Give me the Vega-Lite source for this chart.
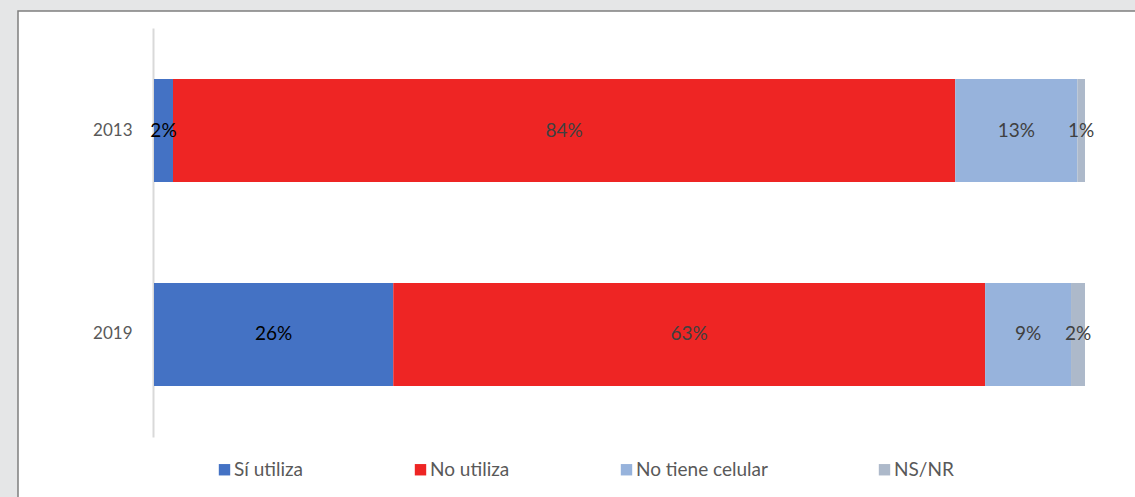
{
  "$schema": "https://vega.github.io/schema/vega-lite/v6.json",
  "width": 1135,
  "height": 497,
  "autosize": {"type": "fit", "contains": "padding"},
  "padding": {"left": 18, "top": 11, "right": -2, "bottom": -2},
  "background": "#e5e6e7",
  "config": {
    "view": {"fill": "white", "stroke": "#7f7f7f", "strokeWidth": 1.5},
    "font": "Lato"
  },
  "data": {
    "values": [
      {"year": "2013", "cat": "Sí utiliza", "k": 1, "value": 2.04, "label": "2%"},
      {"year": "2013", "cat": "No utiliza", "k": 2, "value": 84.02, "label": "84%"},
      {"year": "2013", "cat": "No tiene celular", "k": 3, "value": 13.12, "label": "13%"},
      {"year": "2013", "cat": "NS/NR", "k": 4, "value": 0.82, "label": "1%"},
      {"year": "2019", "cat": "Sí utiliza", "k": 1, "value": 25.7, "label": "26%"},
      {"year": "2019", "cat": "No utiliza", "k": 2, "value": 63.57, "label": "63%"},
      {"year": "2019", "cat": "No tiene celular", "k": 3, "value": 9.23, "label": "9%"},
      {"year": "2019", "cat": "NS/NR", "k": 4, "value": 1.5, "label": "2%"}
    ]
  },
  "encoding": {
    "y": {
      "field": "year",
      "type": "nominal",
      "sort": ["2013", "2019"],
      "scale": {"range": [17, 426], "paddingInner": 0.495, "paddingOuter": 0.25},
      "axis": {
        "title": null,
        "offset": -135,
        "domainColor": "#d9d9d9",
        "domainWidth": 2,
        "ticks": false,
        "labelPadding": 21,
        "labelFont": "Lato",
        "labelFontSize": 17,
        "labelColor": "#595959"
      }
    }
  },
  "layer": [
    {
      "mark": {"type": "bar"},
      "encoding": {
        "x": {
          "field": "value",
          "type": "quantitative",
          "stack": "zero",
          "scale": {"domain": [0, 100], "range": [136, 1067], "nice": false, "zero": false},
          "axis": null
        },
        "color": {
          "field": "cat",
          "type": "nominal",
          "scale": {
            "domain": ["Sí utiliza", "No utiliza", "No tiene celular", "NS/NR"],
            "range": ["#4472c4", "#ee2524", "#97b3dc", "#adb9ca"]
          },
          "legend": {
            "orient": "none",
            "legendX": 197,
            "legendY": 449,
            "direction": "horizontal",
            "title": null,
            "symbolType": "square",
            "symbolSize": 130,
            "symbolStrokeWidth": 0,
            "labelFont": "Lato",
            "labelFontSize": 19,
            "labelColor": "#595959",
            "columnPadding": 107,
            "labelOffset": 0
          }
        },
        "order": {"field": "k", "type": "quantitative"}
      }
    },
    {
      "transform": [
        {"stack": "value", "groupby": ["year"], "sort": [{"field": "k", "order": "ascending"}], "as": ["v0", "v1"]},
        {"calculate": "(datum.v0 + datum.v1) / 2", "as": "mid"}
      ],
      "mark": {"type": "text", "font": "Lato", "fontSize": 19},
      "encoding": {
        "x": {"field": "mid", "type": "quantitative"},
        "text": {"field": "label"},
        "color": {
          "condition": {"test": "datum.cat === 'Sí utiliza'", "value": "#000000"},
          "value": "#404040"
        }
      }
    }
  ]
}
